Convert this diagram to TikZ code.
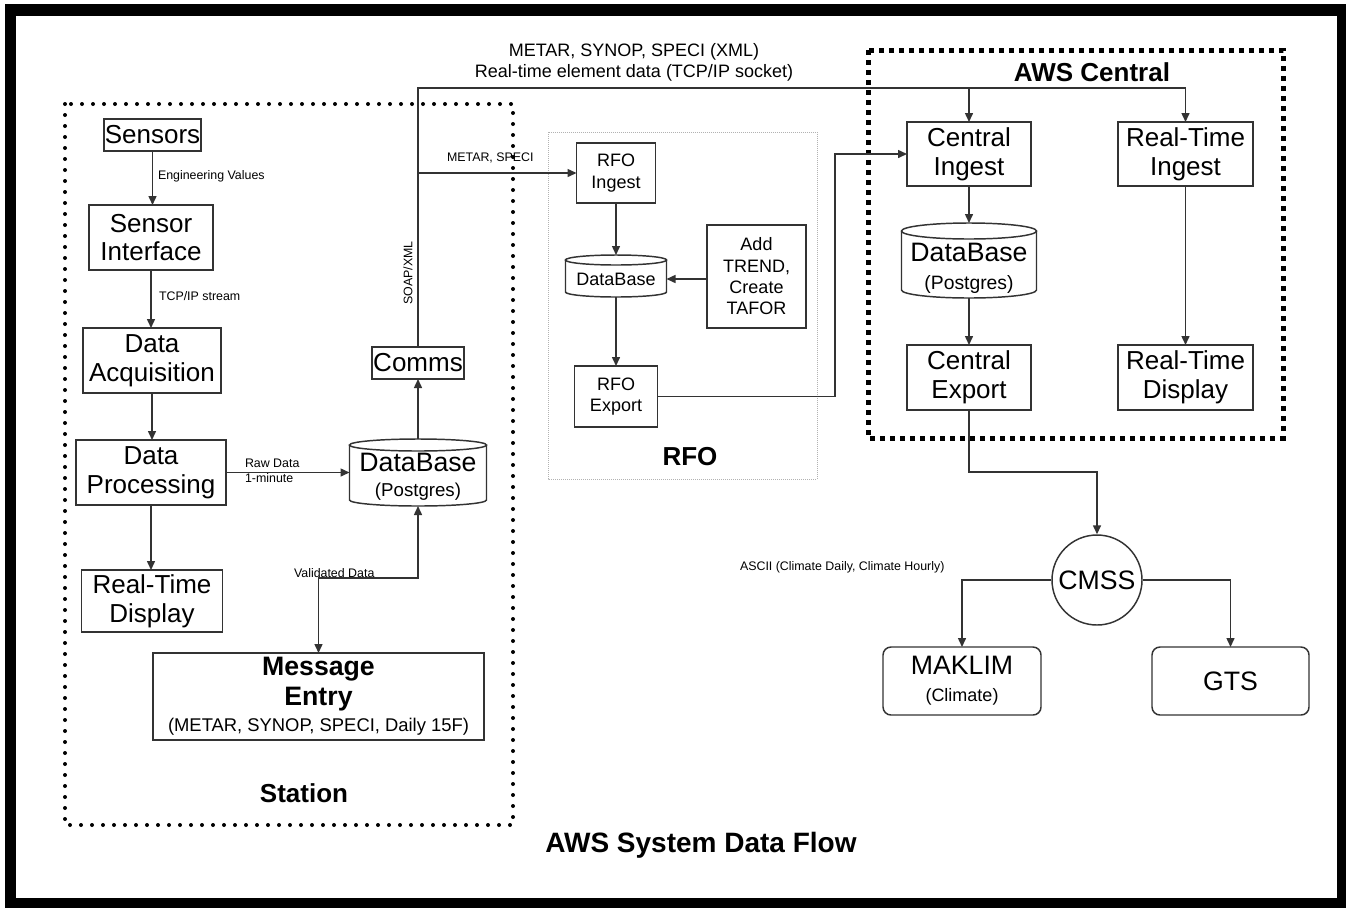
\documentclass[tikz,border=0pt]{standalone}
\usepackage{fontspec}
\setmainfont{Liberation Sans}
\usetikzlibrary{arrows.meta,calc}
\definecolor{lc}{HTML}{333333}
\tikzset{
  ln/.style={draw=lc, line width=1.1pt},
  arr/.style={ln, -{Triangle[length=6.75pt,width=6pt]}},
  arrb/.style={ln, {Triangle[length=6.75pt,width=6pt]}-{Triangle[length=6.75pt,width=6pt]}},
  sz/.style 2 args={minimum width=#1*0.75pt, minimum height=#2*0.75pt},
  box/.style={ln, rectangle, inner sep=0pt, outer sep=0pt, align=center, text=black},
  bigf/.style={font=\fontsize{19.5}{21.5}\selectfont},
  midf/.style={font=\fontsize{13.5}{16}\selectfont},
  smallf/.style={font=\fontsize{9.3}{11.25}\selectfont},
  lbl/.style={inner sep=0pt, outer sep=0pt, text=black},
  dbn/.style={rectangle, draw=none, inner sep=0pt, outer sep=0pt},
  ttl/.style={inner sep=0pt, font=\bfseries\fontsize{19.5}{22}\selectfont},
}
\newcommand\dbcyl[3]{%
  \draw[ln] ([yshift=-#3*0.75pt]#1.north west) -- ([yshift=#3*0.75pt]#1.south west)
    arc[start angle=180,end angle=360,x radius=#2*0.75pt,y radius=#3*0.75pt]
    -- ([yshift=-#3*0.75pt]#1.north east);
  \draw[ln] ([yshift=-#3*0.75pt]#1.north) ellipse[x radius=#2*0.75pt,y radius=#3*0.75pt];}
\begin{document}
\begin{tikzpicture}[x=0.75pt,y=-0.75pt]
\useasboundingbox (0,0) rectangle (1346,908);
\fill[white] (0,0) rectangle (1346,908);
\fill[black] (5,4) rectangle (1346,908);
\fill[white] (16,16) rectangle (1337,898);

% group frames
\draw[line width=3pt, dash pattern=on 0pt off 8.25pt, line cap=round] (65,104) rectangle (513,825);
\draw[line width=3.75pt, dash pattern=on 3.75pt off 3.75pt] (868,50) rectangle (1283,438);
\draw[gray!60, line width=0.75pt, dash pattern=on 0.75pt off 0.75pt] (548,132) rectangle (817,479);

% Station
\node[box,bigf,sz={97}{32}] (sensors) at (152.5,135) {Sensors};
\node[box,bigf,sz={124}{65}] (si) at (151,237.5) {Sensor\\Interface};
\node[box,bigf,sz={138}{65}] (da) at (152,360.5) {Data\\Acquisition};
\node[box,bigf,sz={150}{65}] (dp) at (151,472.5) {Data\\Processing};
\node[box,bigf,sz={141}{62}] (rtd) at (152,601) {Real-Time\\Display};
\node[box,sz={331}{87},font=\fontsize{20}{22}\selectfont] (me) at (318.5,696.5)
  {\textbf{Message}\\\textbf{Entry}\\[-2pt]{\fontsize{13.8}{16}\selectfont(METAR, SYNOP, SPECI, Daily 15F)}};
\node[box,bigf,sz={92}{32}] (comms) at (418,363) {Comms};
\node[dbn,sz={137}{67}] (sdb) at (418,472.5) {};
\dbcyl{sdb}{68.5}{6}
\node[lbl,align=center,font=\fontsize{20}{19}\selectfont] (sdbt) at (418,477) {DataBase\\{\fontsize{14}{16}\selectfont(Postgres)}};
\node[ttl] (stl) at (304,793) {Station};

% RFO
\node[box,midf,sz={79}{60}] (rfoi) at (616,173) {RFO\\Ingest};
\node[dbn,sz={101}{42}] (rdb) at (616,276) {};
\dbcyl{rdb}{50.5}{5}
\node[lbl,font=\fontsize{13.5}{16}\selectfont] (rdbt) at (616,279) {DataBase};
\node[box,midf,sz={99}{103}] (trend) at (756.5,276.5) {Add\\TREND,\\Create\\TAFOR};
\node[box,midf,sz={83}{61}] (rfoe) at (616,396.5) {RFO\\Export};
\node[ttl] (rfol) at (690,457) {RFO};

% AWS Central
\node[ttl] (awsl) at (1092,72) {AWS Central};
\node[box,bigf,sz={124}{64}] (ci) at (969,154) {Central\\Ingest};
\node[box,bigf,sz={135}{64}] (rti) at (1185.5,154) {Real-Time\\Ingest};
\node[dbn,sz={135}{75}] (cdb) at (969,260.5) {};
\dbcyl{cdb}{67.5}{8}
\node[lbl,align=center,font=\fontsize{20}{21}\selectfont] (cdbt) at (969,268) {DataBase\\{\fontsize{14.5}{16}\selectfont(Postgres)}};
\node[box,bigf,sz={124}{65}] (ce) at (969,377.5) {Central\\Export};
\node[box,bigf,sz={135}{65}] (rtdr) at (1185.5,377.5) {Real-Time\\Display};

% CMSS and consumers
\node[ln,circle,minimum size=67.5pt,inner sep=0pt,text=black,font=\fontsize{20}{22}\selectfont] (cmss) at (1097,580) {CMSS};
\node[box,rounded corners=6pt,sz={158}{68},font=\fontsize{20}{20}\selectfont] (maklim) at (962,681) {MAKLIM\\{\fontsize{13.5}{16}\selectfont(Climate)}};
\node[box,rounded corners=6pt,sz={157}{68},font=\fontsize{20}{22}\selectfont] (gts) at (1230.5,681) {GTS};

% coordinates for bends
\coordinate (topy) at (0,88);
\coordinate (jogx) at (835,0);
\coordinate (cjy) at (0,472);
\coordinate (vjy) at (0,578);

% connectors - station
\draw[arr] (sensors.south) -- (sensors.south |- si.north);
\draw[arr] (si.south) -- (si.south |- da.north);
\draw[arr] (da.south) -- (da.south |- dp.north);
\draw[arr] (dp.south) -- (dp.south |- rtd.north);
\draw[arr] (dp.east) -- (sdb.west |- dp.east);
\draw[arr] (sdb.north) -- (comms.south);
\draw[arrb] (me.north) -- (me.north |- vjy) -| (sdb.south);

% connectors - top
\draw[arr] (comms.north) -- (comms.north |- topy) -| (rti.north);
\draw[arr] (ci.north |- topy) -- (ci.north);
\draw[arr] (comms.north |- rfoi.west) -- (rfoi.west);

% RFO
\draw[arr] (rfoi.south) -- (rdb.north);
\draw[arr] (trend.west |- rdbt.east) -- (rdb.east |- rdbt.east);
\draw[arr] (rdb.south) -- (rfoe.north);
\draw[arr] (rfoe.east) -- (rfoe.east -| jogx) -- (jogx |- ci.west) -- (ci.west);

% AWS Central
\draw[arr] (ci.south) -- (cdb.north);
\draw[arr] (cdb.south) -- (ce.north);
\draw[arr] (rti.south) -- (rtdr.north);
\draw[arr] (ce.south) -- (ce.south |- cjy) -| (cmss.north);
\draw[arr] (cmss.west) -| (maklim.north);
\draw[arr] (cmss.east) -| (gts.north);

% labels
\node[lbl,smallf,anchor=west] (lev) at (158,176) {Engineering Values};
\node[lbl,smallf,anchor=west] (ltcp) at (159,296) {TCP/IP stream};
\node[lbl,smallf,anchor=west,align=left] (lraw) at (245,470.5) {Raw Data\\1-minute};
\node[lbl,smallf,anchor=west] (lval) at (294,573) {Validated Data};
\node[lbl,smallf,anchor=west] (lms) at (447,158) {METAR, SPECI};
\node[lbl,smallf,rotate=90] (lsoap) at (408,273) {SOAP/XML};
\node[lbl,smallf,anchor=west] (lascii) at (740,567) {ASCII (Climate Daily, Climate Hourly)};
\node[lbl,align=center,font=\fontsize{13.5}{15.75}\selectfont] (ltop) at (634,62) {METAR, SYNOP, SPECI (XML)\\Real-time element data (TCP/IP socket)};
\node[lbl,font=\bfseries\fontsize{21}{24}\selectfont] (title) at (701,845) {AWS System Data Flow};
\end{tikzpicture}
\end{document}
